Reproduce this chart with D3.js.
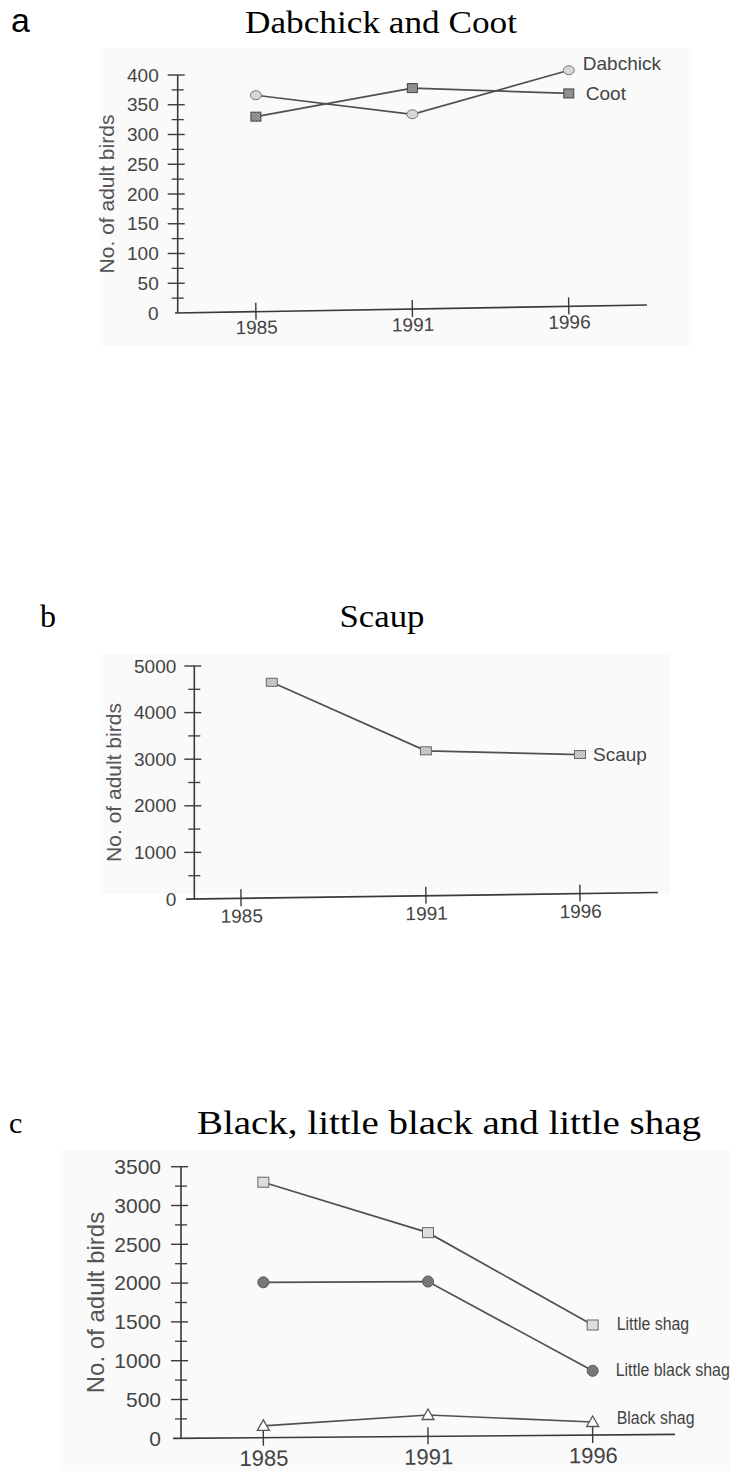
<!DOCTYPE html>
<html>
<head>
<meta charset="utf-8">
<script src="https://cdn.jsdelivr.net/npm/d3@7"></script>
<style>
  html, body { margin: 0; padding: 0; background: #ffffff; }
  svg { display: block; }
</style>
</head>
<body>
<script>
// ---------------- DATA ----------------
const years = [1985, 1991, 1996];
const yearLabels = ["1985", "1991", "1996"];

const dabchick = [366, 334, 408];
const coot = [330, 378, 369];

// panel b uses a true (linear) year axis; the first Scaup count sits at ~1986
const scaupYears = [1986, 1991, 1996];
const scaup = [4650, 3180, 3100];

const littleShag = [3300, 2650, 1460];
const littleBlackShag = [2010, 2020, 870];
const blackShag = [160, 300, 210];

const ticksA = [0, 50, 100, 150, 200, 250, 300, 350, 400];
const ticksB = [0, 1000, 2000, 3000, 4000, 5000];
const ticksC = [0, 500, 1000, 1500, 2000, 2500, 3000, 3500];

const panelLetters = ["a", "b", "c"];
const panelTitles = ["Dabchick and Coot", "Scaup", "Black, little black and little shag"];
const yTitle = "No. of adult birds";

// ---------------- LAYOUT / STYLE ----------------
const W = 739, H = 1471;
const svg = d3.select("body").append("svg").attr("width", W).attr("height", H);
const defs = svg.append("defs");

function checker(id, c1, c2, s) {
  const p = defs.append("pattern").attr("id", id).attr("patternUnits", "userSpaceOnUse")
    .attr("width", s * 2).attr("height", s * 2);
  p.append("rect").attr("width", s * 2).attr("height", s * 2).attr("fill", c1);
  p.append("rect").attr("width", s).attr("height", s).attr("fill", c2);
  p.append("rect").attr("x", s).attr("y", s).attr("width", s).attr("height", s).attr("fill", c2);
}
checker("patDark", "#c8c8c8", "#555", 1.5);
checker("patLight", "#f0f0f0", "#9a9a9a", 1.5);
checker("patPale", "#f6f6f6", "#c4c4c4", 1.5);
checker("patCircle", "#9a9a9a", "#555", 1.5);
checker("patEll", "#eeeeee", "#c0c0c0", 1.5);

const axisColor = "#3a3a3a";
const textColor = "#444";
const lineColor = "#505050";
const sans = "'Liberation Sans', Arial, sans-serif";
const serif = "'Liberation Serif', 'Times New Roman', serif";

const markers = {
  ellipse: (g) => g.append("ellipse").attr("rx", 5.5).attr("ry", 4.5)
      .attr("fill", "url(#patEll)").attr("stroke", "#777").attr("stroke-width", 1),
  sqDark: (g) => g.append("rect").attr("x", -5).attr("y", -4.5).attr("width", 10).attr("height", 9)
      .attr("fill", "url(#patDark)").attr("stroke", "#444").attr("stroke-width", 1),
  sqLight: (g) => g.append("rect").attr("x", -5.5).attr("y", -4).attr("width", 11).attr("height", 8)
      .attr("fill", "url(#patLight)").attr("stroke", "#666").attr("stroke-width", 1),
  sqPale: (g) => g.append("rect").attr("x", -5.5).attr("y", -5).attr("width", 11).attr("height", 10)
      .attr("fill", "url(#patPale)").attr("stroke", "#666").attr("stroke-width", 1),
  circle: (g) => g.append("circle").attr("r", 5.5)
      .attr("fill", "url(#patCircle)").attr("stroke", "#555").attr("stroke-width", 1),
  triangle: (g) => g.append("path").attr("d", "M0,-6 L6,4.5 L-6,4.5 Z")
      .attr("fill", "#fff").attr("stroke", "#555").attr("stroke-width", 1.3)
};

const panels = [
  {
    letter: panelLetters[0], letterFont: sans, letterSize: 34, letterX: 11, letterY: 32,
    title: panelTitles[0], titleX: 381, titleY: 33, titleSize: 31, titleLen: 272,
    bg: [100, 48, 592, 298],
    axisX: 177.7, xEnd: 647, xStart: 175, y0: 313, yTop: 75, tilt: -0.97,
    xType: "point",
    yMax: 400, ticks: ticksA, minorStep: 25, tickFont: 19, tickPad: 19,
    xFont: 19, xLabelDy: 23,
    titleCX: 106, titleSize2: 21,
    legendSize: 19, legendCompress: 1,
    series: [
      { name: "Dabchick", years: years, values: dabchick, marker: "ellipse", dx: 14, dy: -7 },
      { name: "Coot", years: years, values: coot, marker: "sqDark", dx: 17, dy: 0 }
    ]
  },
  {
    letter: panelLetters[1], letterFont: serif, letterSize: 32, letterX: 40, letterY: 627,
    title: panelTitles[1], titleX: 382, titleY: 627, titleSize: 31, titleLen: 85,
    bg: [100, 654, 570, 240],
    axisX: 194.3, xEnd: 658, xStart: 186, y0: 899, yTop: 666, tilt: -0.8,
    xType: "linear", xFirst: 241, xLast: 580,
    yMax: 5000, ticks: ticksB, minorStep: 500, tickFont: 19, tickPad: 18,
    xFont: 19, xLabelDy: 25,
    titleCX: 113, titleSize2: 21,
    legendSize: 19, legendCompress: 1,
    series: [
      { name: "Scaup", years: scaupYears, values: scaup, marker: "sqLight", dx: 13, dy: 0 }
    ]
  },
  {
    letter: panelLetters[2], letterFont: serif, letterSize: 30, letterX: 9, letterY: 1133,
    title: panelTitles[2], titleX: 449, titleY: 1134, titleSize: 34, titleLen: 504,
    bg: [60, 1150, 670, 321],
    axisX: 181, xEnd: 675, xStart: 173, y0: 1438.3, yTop: 1166.7, tilt: -0.45,
    xType: "point",
    yMax: 3500, ticks: ticksC, minorStep: 250, tickFont: 21, tickPad: 20,
    xFont: 22, xLabelDy: 29,
    titleCX: 95, titleSize2: 24,
    legendSize: 18.5, legendCompress: 0.86,
    series: [
      { name: "Little shag", years: years, values: littleShag, marker: "sqPale", dx: 24, dy: -1 },
      { name: "Little black shag", years: years, values: littleBlackShag, marker: "circle", dx: 23, dy: -1 },
      { name: "Black shag", years: years, values: blackShag, marker: "triangle", dx: 24, dy: -4 }
    ]
  }
];

panels.forEach(p => {
  const g = svg.append("g");

  // faint scanned background
  g.append("rect").attr("x", p.bg[0]).attr("y", p.bg[1]).attr("width", p.bg[2]).attr("height", p.bg[3])
    .attr("fill", "#fafafa");

  // letter and title
  g.append("text").attr("x", p.letterX).attr("y", p.letterY)
    .attr("font-family", p.letterFont).attr("font-size", p.letterSize).attr("fill", "#000")
    .text(p.letter);
  g.append("text").attr("x", p.titleX).attr("y", p.titleY).attr("text-anchor", "middle")
    .attr("font-family", serif).attr("font-size", p.titleSize).attr("fill", "#000")
    .attr("textLength", p.titleLen).attr("lengthAdjust", "spacingAndGlyphs")
    .text(p.title);

  const x = p.xType === "point"
    ? d3.scalePoint().domain(years).range([p.axisX, p.xEnd]).padding(0.5)
    : d3.scaleLinear().domain([years[0], years[years.length - 1]]).range([p.xFirst, p.xLast]);
  const y = d3.scaleLinear().domain([0, p.yMax]).range([p.y0, p.yTop]);

  // y axis labels via d3 axis
  const ya = g.append("g").attr("transform", `translate(${p.axisX},0)`)
    .call(d3.axisLeft(y).tickValues(p.ticks).tickSize(0).tickPadding(p.tickPad).tickFormat(d3.format("d")));
  ya.select(".domain").remove();
  ya.selectAll("text").attr("font-family", sans).attr("font-size", p.tickFont).attr("fill", textColor);

  // y axis line and crossing ticks
  g.append("line").attr("x1", p.axisX).attr("x2", p.axisX).attr("y1", y(p.yMax)).attr("y2", y(0))
    .attr("stroke", axisColor).attr("stroke-width", 1.6);
  const minors = d3.range(0, p.yMax + 1e-9, p.minorStep).filter(v => !p.ticks.includes(v));
  g.selectAll(null).data(p.ticks.filter(v => v > 0)).join("line")
    .attr("x1", p.axisX - 10).attr("x2", p.axisX + 7)
    .attr("y1", d => y(d)).attr("y2", d => y(d))
    .attr("stroke", axisColor).attr("stroke-width", 1.4);
  g.selectAll(null).data(minors).join("line")
    .attr("x1", p.axisX - 6).attr("x2", p.axisX + 6)
    .attr("y1", d => y(d)).attr("y2", d => y(d))
    .attr("stroke", axisColor).attr("stroke-width", 1.3);

  // y axis title
  const tcy = (y(0) + y(p.yMax)) / 2;
  g.append("text").attr("transform", `translate(${p.titleCX},${tcy}) rotate(-90)`)
    .attr("text-anchor", "middle").attr("dominant-baseline", "central")
    .attr("font-family", sans).attr("font-size", p.titleSize2).attr("fill", "#555")
    .text(yTitle);

  // x axis (slightly tilted, as in the scan)
  const xg = g.append("g").attr("transform", `rotate(${p.tilt},${p.axisX},${p.y0}) translate(0,${p.y0})`);
  const xa = xg.append("g")
    .call(d3.axisBottom(x).tickValues(years).tickSize(0).tickPadding(p.xLabelDy - p.xFont * 0.75)
      .tickFormat(d => yearLabels[years.indexOf(d)]));
  xa.select(".domain").remove();
  xa.selectAll("text").attr("font-family", sans).attr("font-size", p.xFont).attr("fill", textColor);
  xg.append("line").attr("x1", p.xStart).attr("x2", p.xEnd).attr("y1", 0).attr("y2", 0)
    .attr("stroke", axisColor).attr("stroke-width", 1.6);
  xg.selectAll(null).data(years).join("line")
    .attr("x1", d => x(d)).attr("x2", d => x(d)).attr("y1", -9).attr("y2", 8)
    .attr("stroke", axisColor).attr("stroke-width", 1.4);

  // series
  p.series.forEach(s => {
    const line = d3.line().x((d, i) => x(s.years[i])).y(d => y(d));
    g.append("path").datum(s.values).attr("d", line)
      .attr("fill", "none").attr("stroke", lineColor).attr("stroke-width", 1.7);
  });
  p.series.forEach(s => {
    s.values.forEach((v, i) => {
      const mg = g.append("g").attr("transform", `translate(${x(s.years[i])},${y(v)})`);
      markers[s.marker](mg);
    });
    const last = s.values.length - 1;
    const lx = x(s.years[last]) + s.dx, ly = y(s.values[last]) + s.dy;
    g.append("text")
      .attr("transform", `translate(${lx},${ly}) scale(${p.legendCompress},1)`)
      .attr("dominant-baseline", "central")
      .attr("font-family", sans).attr("font-size", p.legendSize).attr("fill", textColor)
      .text(s.name);
  });
});
</script>
</body>
</html>
